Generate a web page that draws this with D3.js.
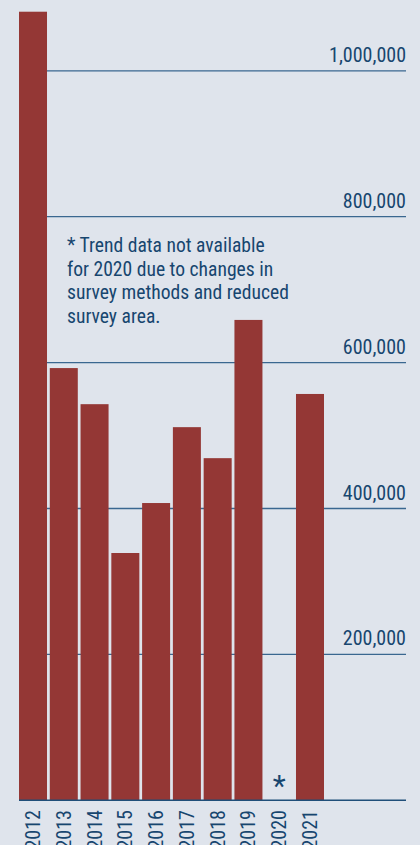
<!DOCTYPE html>
<html><head><meta charset="utf-8">
<script src="https://cdn.jsdelivr.net/npm/d3@7"></script>
<style>
html,body{margin:0;padding:0;background:#dfe4ec;}
svg{display:block;}
</style></head>
<body>
<svg id="chart" width="420" height="845"></svg>
<script>
const years = ["2012","2013","2014","2015","2016","2017","2018","2019","2020","2021"];
const values = [1081000, 592500, 543000, 339000, 407500, 511500, 469000, 658500, null, 557000];
const tickValues = [200000, 400000, 600000, 800000, 1000000];
const noteLines = ["* Trend data not available", "for 2020 due to changes in", "survey methods and reduced", "survey area."];
const missingMark = "*";

const W = 420, H = 845;
const FONT = "'Liberation Sans Narrow','Roboto Condensed','DejaVu Sans Condensed',sans-serif";
const svg = d3.select("#chart");
svg.append("rect").attr("width", W).attr("height", H).attr("fill", "#dfe4ec");

const x = d3.scaleBand().domain(years).range([19, 324]).paddingInner(0.09).paddingOuter(0);
const y = d3.scaleLinear().domain([0, 1000000]).range([800.3, 70.8]);
const lineColor = "#1f4e79";
const textColor = "#17466f";

// gridlines
svg.append("g").selectAll("line").data(tickValues).join("line")
  .attr("x1", 19).attr("x2", 406)
  .attr("y1", d => y(d)).attr("y2", d => y(d))
  .attr("stroke", "#3a6790").attr("stroke-width", 1.3);

// tick labels
svg.append("g").selectAll("text").data(tickValues).join("text")
  .attr("x", 406).attr("y", d => y(d) - 9)
  .attr("text-anchor", "end")
  .attr("font-family", FONT).attr("font-size", 20)
  .attr("fill", textColor)
  .text(d => d3.format(",")(d));

// bars
const data = years.map((yr, i) => ({yr, v: values[i]}));
svg.append("g").selectAll("rect").data(data.filter(d => d.v != null)).join("rect")
  .attr("x", d => x(d.yr)).attr("width", x.bandwidth())
  .attr("y", d => y(d.v)).attr("height", d => y(0) - y(d.v))
  .attr("fill", "#943735");

// missing mark
data.filter(d => d.v == null).forEach(d => {
  svg.append("text")
    .attr("x", x(d.yr) + x.bandwidth() / 2).attr("y", 796)
    .attr("text-anchor", "middle")
    .attr("font-family", FONT).attr("font-size", 30)
    .attr("fill", textColor).text(missingMark);
});

// baseline
svg.append("line").attr("x1", 19).attr("x2", 406)
  .attr("y1", y(0)).attr("y2", y(0))
  .attr("stroke", lineColor).attr("stroke-width", 1.5);

// year labels
svg.append("g").selectAll("text").data(years).join("text")
  .attr("transform", d => `translate(${x(d) + x.bandwidth() / 2 + 7},810) rotate(-90)`)
  .attr("text-anchor", "end")
  .attr("font-family", FONT).attr("font-size", 20)
  .attr("fill", textColor)
  .text(d => d);

// note
svg.append("g").selectAll("text").data(noteLines).join("text")
  .attr("x", 67).attr("y", (d, i) => 252 + i * 23.5)
  .attr("font-family", FONT).attr("font-size", 19.6)
  .attr("fill", textColor)
  .text(d => d);
</script>
</body></html>
